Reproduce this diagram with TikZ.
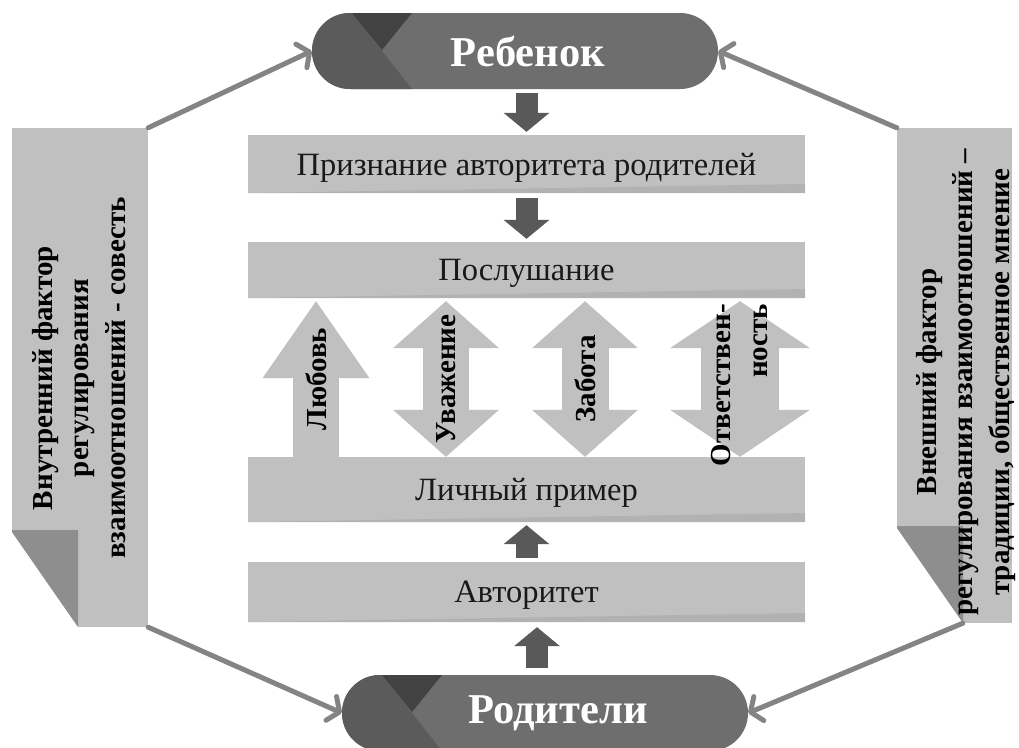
\documentclass[tikz,border=0pt]{standalone}
\usepackage{fontspec}
\setmainfont{Liberation Serif}
\usetikzlibrary{arrows.meta}
\definecolor{barfill}{HTML}{C0C0C0}
\definecolor{barshade}{HTML}{B2B2B2}
\definecolor{pillfill}{HTML}{6E6E6E}
\definecolor{pillleft}{HTML}{5B5B5B}
\definecolor{pilldark}{HTML}{424242}
\definecolor{foldfill}{HTML}{8E8E8E}
\definecolor{linkgray}{HTML}{848484}
\definecolor{blockdark}{HTML}{595959}

\begin{document}
\begin{tikzpicture}[
        x=1pt, y=-1pt,
        bar/.style={fill=barfill, minimum width=557pt, inner sep=0pt, text=black!90, text depth=0pt,
            font=\fontsize{32.5}{38}\selectfont,
            path picture={\fill[barshade] (path picture bounding box.south west)
                -- ([shift={(0,-9)}]path picture bounding box.south east)
                -- (path picture bounding box.south east) -- cycle;}},
        pill/.style={fill=pillfill, rounded corners=38pt, minimum width=406pt, minimum height=76pt,
            inner sep=0pt, text=white, font=\bfseries\fontsize{42.5}{50}\selectfont,
            path picture={
                \fill[pillleft, sharp corners] (path picture bounding box.north west)
                    -- ([shift={(40,0)}]path picture bounding box.north west)
                    -- ([shift={(100,0)}]path picture bounding box.south west)
                    -- (path picture bounding box.south west) -- cycle;
                \fill[pilldark, sharp corners] ([shift={(40,0)}]path picture bounding box.north west)
                    -- ([shift={(100,0)}]path picture bounding box.north west)
                    -- ([shift={(70,37)}]path picture bounding box.north west) -- cycle;}},
        panel/.style={fill=barfill, inner sep=0pt,
            path picture={
                \fill[white] ([shift={(0,-95)}]path picture bounding box.south west)
                    -- ([shift={(66,0)}]path picture bounding box.south west)
                    -- (path picture bounding box.south west) -- cycle;
                \fill[foldfill] ([shift={(0,-97)}]path picture bounding box.south west)
                    -- ([shift={(66,-97)}]path picture bounding box.south west)
                    -- ([shift={(66,0)}]path picture bounding box.south west)
                    -- ([shift={(0,-95)}]path picture bounding box.south west) -- cycle;}},
        sidetext/.style={rotate=90, align=center, text=black, font=\bfseries\fontsize{29}{36.5}\selectfont},
        blocktext/.style={rotate=90, align=right, text=black, font=\bfseries\fontsize{29}{37}\selectfont},
        link/.style={draw=linkgray, line width=5pt, line cap=round, -{Straight Barb[length=9pt,width=26pt,round]}},
        darrow/.style={draw=blockdark, line width=22pt, -{Triangle[width=46pt,length=19pt,line width=0pt]}},
        blockup/.style={draw=barfill, line width=46pt, -{Triangle[width=107pt,length=77pt,line width=0pt]}},
        blockboth/.style={draw=barfill, line width=46pt,
            {Triangle[width=106pt,length=47pt,line width=0pt]}-{Triangle[width=106pt,length=47pt,line width=0pt]}},
    ]
    \useasboundingbox (0,0) rectangle (1019,747);

    % Child and parents
    \node[pill] (child) at (515,51) {\hspace*{26pt}Ребенок};
    \node[pill] (parents) at (545,713) {\hspace*{26pt}Родители};

    % Central bars
    \node[bar, minimum height=58pt] (bar1) at (526.5,164) {Признание авторитета родителей};
    \node[bar, minimum height=56pt] (bar2) at (526.5,270) {Послушание};
    \node[bar, minimum height=65pt] (bar3) at (526.5,489.5) {Личный пример};
    \node[bar, minimum height=60pt] (bar4) at (526.5,592) {Авторитет};

    % Side panels
    \node[panel, minimum width=136pt, minimum height=499pt] (inner) at (80,377.5) {};
    \node[sidetext] at (79,378) {Внутренний фактор\\регулирования\\взаимоотношений - совесть};
    \node[panel, minimum width=115pt, minimum height=495pt] (outer) at (954.5,375.5) {};
    \node[sidetext] at (966,382) {Внешний фактор\\регулирования взаимоотношений –\\традиции, общественное мнение};

    % Links to the panels
    \draw[link] (inner.north east) -- (child.west);
    \draw[link] (outer.north west) -- (child.east);
    \draw[link] (inner.south east) -- (parents.west);
    \draw[link] ([xshift=66pt]outer.south west) -- (parents.east);

    % Dark arrows
    \draw[darrow, shorten <=4pt] (child.south -| bar1.north) -- ([yshift=3pt]bar1.north);
    \draw[darrow, shorten <=5pt] (bar1.south) -- ([yshift=3pt]bar2.north);
    \draw[darrow, shorten <=4pt] (bar4.north) -- ([yshift=-3pt]bar3.south);
    \draw[darrow, shorten <=7pt] ([xshift=10.5pt]bar4.south |- parents.north) -- ([xshift=10.5pt,yshift=-5pt]bar4.south);

    % Block arrows
    \draw[blockup] ([xshift=-210.5pt]bar3.north) -- ([xshift=-210.5pt,yshift=-3pt]bar2.south)
        node[blocktext, midway] {Любовь};
    \draw[blockboth] ([xshift=-80.5pt]bar3.north) -- ([xshift=-80.5pt,yshift=-3pt]bar2.south)
        node[blocktext, midway] {Уважение};
    \draw[blockboth, line width=47pt] ([xshift=58.5pt]bar3.north) -- ([xshift=58.5pt,yshift=-3pt]bar2.south)
        node[blocktext, midway] {Забота};
    \draw[blockboth, line width=78pt, {Triangle[width=140pt,length=47pt,line width=0pt]}-{Triangle[width=140pt,length=47pt,line width=0pt]}]
        ([xshift=213.5pt]bar3.north) -- ([xshift=213.5pt,yshift=-3pt]bar2.south)
        node[blocktext, pos=0.46] {Ответствен-\\ность};
\end{tikzpicture}
\end{document}
